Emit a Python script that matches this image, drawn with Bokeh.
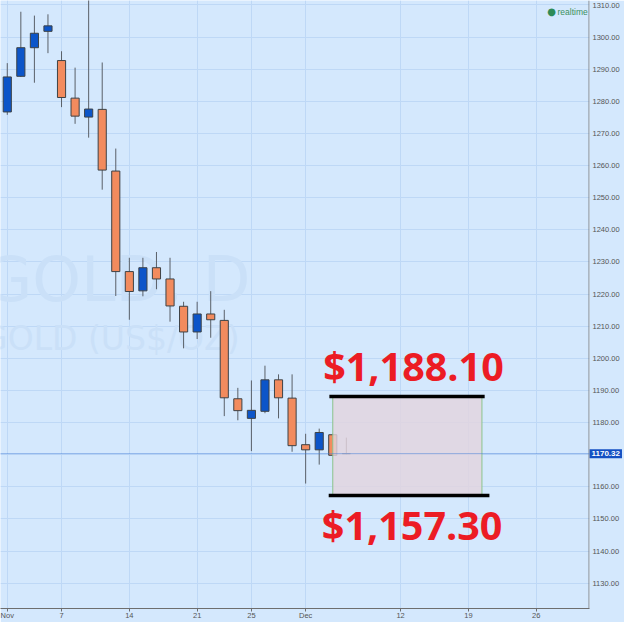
from bokeh.plotting import figure
from bokeh.models import (Range1d, FixedTicker, NumeralTickFormatter, Span, Label,
                          ColumnDataSource)
from bokeh.embed import file_html
from bokeh.resources import INLINE

# ---------------- data ----------------
dates = ["Nov 1", "Nov 2", "Nov 3", "Nov 4", "Nov 7", "Nov 8", "Nov 9", "Nov 10", "Nov 11",
         "Nov 14", "Nov 15", "Nov 16", "Nov 17", "Nov 18", "Nov 21", "Nov 22", "Nov 23",
         "Nov 24", "Nov 25", "Nov 28", "Nov 29", "Nov 30", "Dec 1", "Dec 2", "Dec 5", "Dec 6"]
opens = [1276.7, 1287.8, 1296.7, 1301.8, 1292.7, 1281.0, 1275.1, 1277.5, 1258.3,
         1227.0, 1221.0, 1228.2, 1224.7, 1216.2, 1208.2, 1213.8, 1211.8,
         1187.4, 1181.3, 1183.5, 1193.3, 1187.6, 1173.1, 1171.5, 1176.2, 1170.3]
highs = [1291.9, 1307.9, 1306.7, 1307.1, 1295.6, 1290.5, 1337.4, 1292.1, 1265.3,
         1231.3, 1231.3, 1233.1, 1231.3, 1217.6, 1217.6, 1220.9, 1215.1,
         1190.8, 1193.1, 1197.7, 1195.0, 1195.0, 1176.5, 1178.1, 1176.5, 1175.3]
lows = [1275.8, 1287.6, 1285.8, 1295.0, 1278.2, 1273.0, 1268.7, 1252.5, 1219.4,
        1212.0, 1219.3, 1221.5, 1211.4, 1203.1, 1206.0, 1206.4, 1182.0,
        1180.7, 1171.1, 1182.9, 1181.3, 1170.9, 1161.0, 1166.9, 1169.6, 1170.1]
closes = [1287.6, 1296.7, 1301.2, 1303.5, 1281.2, 1275.4, 1277.6, 1258.6, 1227.0,
          1220.8, 1228.2, 1224.7, 1216.3, 1208.2, 1213.8, 1212.0, 1187.7,
          1183.7, 1183.8, 1193.3, 1187.7, 1172.8, 1171.5, 1176.9, 1169.8, 1170.3]

tick_positions = [0, 4, 9, 14, 18, 22, 29, 34, 39]
tick_labels = ["Nov", "7", "14", "21", "25", "Dec", "12", "19", "26"]
price_ticks = list(range(1130, 1320, 10))

last_price = 1170.32
target_high = 1188.10
target_low = 1157.30
box_start = 24
box_end = 35

# ---------------- styles ----------------
BG = "#d4e8fd"
GRID = "#bed8f6"
AXIS = "#6e6e6e"
UP = "#0c55c9"
DOWN = "#f28b5e"
FLAT = "#8a8f96"
RED = "#ec1c24"
WATER = "#cae0f8"

x_lo, x_hi = -0.5, 42.93
y_lo, y_hi = 1122.1, 1311.4
FW, FH = 589, 608


def px_x(px):
    return x_lo + px / FW * (x_hi - x_lo)


def px_y(py):
    return y_hi - py / FH * (y_hi - y_lo)


idx = list(range(len(dates)))
body_top = [max(o, c) for o, c in zip(opens, closes)]
body_bot = [min(o, c) for o, c in zip(opens, closes)]
colors = [UP if c > o else (DOWN if c < o else FLAT) for o, c in zip(opens, closes)]

src = ColumnDataSource(dict(x=idx, o=opens, h=highs, l=lows, c=closes,
                            top=body_top, bot=body_bot, col=colors, d=dates))

p = figure(width=624, height=622, output_backend="svg", toolbar_location=None,
           x_range=Range1d(x_lo, x_hi), y_range=Range1d(y_lo, y_hi),
           y_axis_location="right", min_border=0)
p.min_border_left = 0
p.min_border_top = 0
p.min_border_right = 35
p.min_border_bottom = 14
p.background_fill_color = BG
p.border_fill_color = BG
p.outline_line_color = None

# grids
p.xgrid.grid_line_color = GRID
p.ygrid.grid_line_color = GRID

# axes
xa = p.xaxis[0]
xa.ticker = FixedTicker(ticks=tick_positions)
xa.major_label_overrides = {t: l for t, l in zip(tick_positions, tick_labels)}
ya = p.yaxis[0]
ya.ticker = FixedTicker(ticks=price_ticks)
ya.formatter = NumeralTickFormatter(format="0.00")
for ax in (xa, ya):
    ax.axis_line_color = AXIS
    ax.major_tick_line_color = AXIS
    ax.major_tick_in = 0
    ax.major_tick_out = 3
    ax.minor_tick_line_color = None
    ax.major_label_text_font = "Liberation Sans"
    ax.major_label_text_font_size = "7.5px"
    ax.major_label_text_color = "#555555"
xa.major_label_standoff = -1

# last-price tag lives in the right panel (next to the frame); the price axis sits
# after it and draws its labels back over the same strip
price_tag = Label(x=x_hi, y=last_price, text=f"{last_price:.2f}", text_align="left",
                  text_baseline="middle", text_font="Liberation Sans",
                  text_font_size="8px", text_font_style="bold", text_color="white",
                  background_fill_color="#1450c3", x_offset=0, padding=2)
p.right = [price_tag, ya]
ya.axis_line_color = None
ya.major_tick_line_color = None
ya.major_tick_out = 0
ya.major_label_standoff = -29
p.add_layout(Span(location=px_x(588.6), dimension="height", line_color=AXIS, line_width=1))

# watermark (behind the candles)
p.add_layout(Label(x=px_x(250), y=px_y(279), text="GOLD, D", text_align="right",
                   text_baseline="alphabetic", text_font="DejaVu Sans",
                   text_font_size="62px", text_color=WATER, level="underlay"))
p.add_layout(Label(x=px_x(239), y=px_y(338), text="GOLD (US$/OZ)", text_align="right",
                   text_baseline="alphabetic", text_font="DejaVu Sans",
                   text_font_size="33px", text_color=WATER, level="underlay"))

# candles
p.segment(x0="x", y0="l", x1="x", y1="h", source=src, line_color="#5a6068", line_width=1)
p.vbar(x="x", width=0.6, top="top", bottom="bot", source=src,
       fill_color="col", line_color="#3d4246", line_width=1)

# projection box
p.quad(left=[box_start], right=[box_end], bottom=[target_low], top=[target_high],
       fill_color="#e3d4de", fill_alpha=0.82, line_color="#8cc48c", line_width=1)
p.segment(x0=[box_start - 0.25, box_start - 0.3], x1=[box_end + 0.2, box_end + 0.55],
          y0=[target_high, target_low], y1=[target_high, target_low],
          line_color="black", line_width=3.5)

# last price line
p.add_layout(Span(location=last_price, dimension="width", line_color="#3f7bd6",
                  line_dash="1 1", line_width=1))

# target labels
p.add_layout(Label(x=(box_start + box_end) / 2 + 0.45, y=target_high,
                   text=f"${target_high:,.2f}", text_align="center",
                   text_baseline="alphabetic", y_offset=31,
                   text_font="Open Sans", text_font_style="bold",
                   text_font_size="39.5px", text_color=RED))
p.add_layout(Label(x=(box_start + box_end) / 2 + 0.35, y=target_low,
                   text=f"${target_low:,.2f}", text_align="center",
                   text_baseline="alphabetic", y_offset=-30,
                   text_font="Open Sans", text_font_style="bold",
                   text_font_size="39.5px", text_color=RED))

# realtime indicator
p.add_layout(Label(x=px_x(551), y=px_y(11), text="\u25cf", text_align="center",
                   text_baseline="middle", text_font="DejaVu Sans",
                   text_font_size="10px", text_color="#2e8b57"))
p.add_layout(Label(x=px_x(557), y=px_y(11), text="realtime", text_align="left",
                   text_baseline="middle", text_font="Liberation Sans",
                   text_font_size="8.5px", text_color="#3a9060"))

open("out.html", "w").write(file_html(p, INLINE))
